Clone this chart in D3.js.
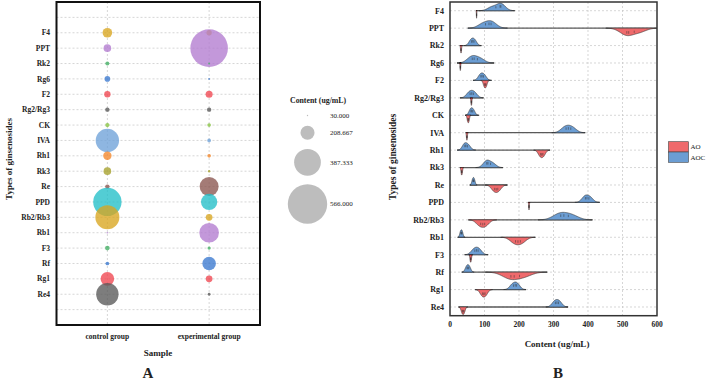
<!DOCTYPE html>
<meta charset="utf-8">
<title>ginsenosides - bubble and half violin</title>
<style>
body {
  margin: 0px;
  background: #fff;
}
svg text {
  font-family: "Liberation Serif", "DejaVu Serif", serif;
  font-weight: bold;
  fill: #222;
}
.grid line {
  stroke: #c4c4c4;
  stroke-width: 0.7;
  stroke-dasharray: 2,2;
}
</style>
<script src="https://d3js.org/d3.v7.min.js"></script>
<body>
<script>
var width = 708, height = 382;

// ---- data ----
var ginsenosides = ["F4", "PPT", "Rk2", "Rg6", "F2", "Rg2/Rg3", "CK", "IVA", "Rh1", "Rk3",
                    "Re", "PPD", "Rb2/Rb3", "Rb1", "F3", "Rf", "Rg1", "Re4"];
var samples = ["control group", "experimental group"];
// panel A: content (ug/mL) per sample
var controlContent = [146, 118, 67, 90, 100, 72, 70, 340, 129, 118, 72, 410, 349, 33, 75, 62, 202, 326];
var experimentalContent = [86, 540, 36, 36, 109, 72, 62, 62, 62, 44, 278, 240, 105, 287, 56, 202, 105, 50];
var sizeBreaks = [30, 208.667, 387.333, 566];
// panel B: replicate measurements (ug/mL)
var groups = ["AO", "AOC"];
var aocValues = [
  [121, 145, 150], [93, 113, 125], [59, 66, 73], [59, 70, 89], [86, 93, 101],
  [53.5, 63, 72.5], [58, 63, 69], [330, 343, 357], [40, 46, 55], [103, 110, 125],
  [65, 68, 71], [388, 397, 408], [312, 330, 356], [30, 33, 36], [67, 77, 86],
  [47, 52, 57], [179, 189, 197], [301, 310, 319]
];
var aoValues = [
  [76.6, 77, 77.4], [507, 518, 550], [31, 32, 33], [29.3, 30, 30.7], [98.4, 102, 105.6],
  [61, 62, 63], [50.8, 53, 55.2], [48, 49, 50], [259.4, 266, 272.6], [32.5, 34, 35.5],
  [125, 134, 143], [228.3, 229, 229.7], [83, 95, 106], [183, 197, 211], [58.5, 60, 61.5],
  [167, 186, 217], [91, 98, 105], [34.3, 38, 41.7]
];
var contentTicks = [0, 100, 200, 300, 400, 500, 600];

// colours cycle from the bottom row upwards
var palette = ["#585858", "#f0454f", "#3a78cf", "#43b064", "#b27bd0", "#d9a51f",
               "#22bfc8", "#8a5650", "#a5a02a", "#f4862a", "#6ea1d9", "#86c440"];
var groupColor = {AO: "#ef6a6c", AOC: "#6b9dd3"};

var svg = d3.select("body").append("svg")
    .attr("width", width)
    .attr("height", height);

// ================= panel A =================
var rowsA = [""].concat(ginsenosides, [" "]);
var yA = d3.scalePoint().domain(rowsA).range([2, 325]).padding(1);
var xA = d3.scalePoint().domain(samples).range([56.5, 260]).padding(0.5);
var rA = d3.scaleLinear().domain([30, 566]).range([0.7, 19.7]).clamp(true);
var colour = d3.scaleOrdinal().domain(ginsenosides.slice().reverse()).range(palette);

var gA = svg.append("g");
var gridA = gA.append("g").attr("class", "grid");
gridA.selectAll("line.h").data(rowsA).enter().append("line")
    .attr("x1", 56.5).attr("x2", 260)
    .attr("y1", function(d) { return yA(d); })
    .attr("y2", function(d) { return yA(d); });
gridA.selectAll("line.v").data(samples).enter().append("line")
    .attr("x1", function(d) { return xA(d); })
    .attr("x2", function(d) { return xA(d); })
    .attr("y1", 2).attr("y2", 325);

var bubbles = [];
ginsenosides.forEach(function(g, i) {
  bubbles.push({g: g, s: samples[0], v: controlContent[i]});
  bubbles.push({g: g, s: samples[1], v: experimentalContent[i]});
});
gA.selectAll("circle.b").data(bubbles).enter().append("circle")
    .attr("cx", function(d) { return xA(d.s); })
    .attr("cy", function(d) { return yA(d.g); })
    .attr("r", function(d) { return rA(d.v); })
    .attr("fill", function(d) { return colour(d.g); })
    .attr("fill-opacity", 0.78);

gA.append("rect")
    .attr("x", 56.5).attr("y", 2).attr("width", 203.5).attr("height", 323)
    .attr("fill", "none").attr("stroke", "#111").attr("stroke-width", 2);

gA.selectAll("text.yl").data(ginsenosides).enter().append("text")
    .attr("x", 50).attr("y", function(d) { return yA(d); })
    .attr("dy", "0.35em").attr("text-anchor", "end")
    .style("font-size", "7.5px").text(function(d) { return d; });
gA.selectAll("text.xl").data(samples).enter().append("text")
    .attr("x", function(d) { return xA(d); }).attr("y", 339)
    .attr("text-anchor", "middle")
    .style("font-size", "7.5px").text(function(d) { return d; });
gA.append("text").attr("x", 158).attr("y", 356).attr("text-anchor", "middle")
    .style("font-size", "9px").text("Sample");
gA.append("text").attr("transform", "translate(12,159) rotate(-90)").attr("text-anchor", "middle")
    .style("font-size", "9px").text("Types of ginsenosides");
gA.append("text").attr("x", 148).attr("y", 378).attr("text-anchor", "middle")
    .style("font-size", "15px").text("A");

// size legend
var legY = [115.5, 132.7, 162.3, 204];
var legA = svg.append("g");
legA.append("text").attr("x", 290).attr("y", 102.5)
    .style("font-size", "7.8px").text("Content (ug/mL)");
legA.selectAll("circle").data(sizeBreaks).enter().append("circle")
    .attr("cx", 307.5).attr("cy", function(d, i) { return legY[i]; })
    .attr("r", function(d) { return rA(d); })
    .attr("fill", "#bdbdbd");
legA.selectAll("text.v").data(sizeBreaks).enter().append("text")
    .attr("x", 330).attr("y", function(d, i) { return legY[i]; })
    .attr("dy", "0.35em").style("font-size", "7px").style("font-weight", "normal")
    .text(function(d) { return d3.format(".3f")(d); });

// ================= panel B =================
var bx0 = 450, bx1 = 657, bTop = 2, bBottom = 315.7;
var xB = d3.scaleLinear().domain([0, 600]).range([bx0, bx1]);
var yB = d3.scalePoint().domain(ginsenosides).range([bTop, bBottom]).padding(0.5);
var hB = d3.scaleLinear().domain([0, 1]).range([0, 7.5]);
var adjust = 1.6;

var gB = svg.append("g");
gB.append("clipPath").attr("id", "clipB").append("rect")
    .attr("x", bx0).attr("y", bTop).attr("width", bx1 - bx0).attr("height", bBottom - bTop);

var gridB = gB.append("g").attr("class", "grid");
gridB.selectAll("line.h").data(ginsenosides).enter().append("line")
    .attr("x1", bx0).attr("x2", bx1)
    .attr("y1", function(d) { return yB(d); })
    .attr("y2", function(d) { return yB(d); });
gridB.selectAll("line.v").data(contentTicks.slice(1, -1)).enter().append("line")
    .attr("x1", function(d) { return xB(d); })
    .attr("x2", function(d) { return xB(d); })
    .attr("y1", bTop).attr("y2", bBottom);

// silverman's rule (R's bw.nrd0) times an adjust factor
function bandwidth(v) {
  var s = v.slice().sort(d3.ascending);
  var sd = d3.deviation(s);
  var iqr = (d3.quantile(s, 0.75) - d3.quantile(s, 0.25)) / 1.34;
  var lo = Math.min(sd, iqr) || sd || 1;
  return adjust * 0.9 * lo * Math.pow(s.length, -0.2);
}
function kde(v) {
  var bw = bandwidth(v);
  var f = function(x) {
    return d3.mean(v, function(d) { return Math.exp(-0.5 * Math.pow((x - d) / bw, 2)); });
  };
  var lo = d3.min(v) - 3 * bw, hi = d3.max(v) + 3 * bw;
  var pts = d3.range(121).map(function(i) { var x = lo + (hi - lo) * i / 120; return [x, f(x)]; });
  var m = d3.max(pts, function(p) { return p[1]; });
  return {pts: pts.map(function(p) { return [p[0], p[1] / m]; }), f: function(x) { return f(x) / m; }, lo: lo, hi: hi};
}

var plotB = gB.append("g").attr("clip-path", "url(#clipB)");
ginsenosides.forEach(function(g, i) {
  var y = yB(g);
  var dAOC = kde(aocValues[i]), dAO = kde(aoValues[i]);
  var row = plotB.append("g");
  row.append("line")
      .attr("x1", xB(Math.min(dAOC.lo, dAO.lo))).attr("x2", xB(Math.max(dAOC.hi, dAO.hi)))
      .attr("y1", y).attr("y2", y)
      .attr("stroke", "#5a5a5a").attr("stroke-width", 1.3);
  [[dAOC, aocValues[i], "AOC", -1], [dAO, aoValues[i], "AO", 1]].forEach(function(s) {
    var dens = s[0], vals = s[1].slice().sort(d3.ascending), dir = s[3];
    var area = d3.area()
        .x(function(p) { return xB(p[0]); })
        .y0(y)
        .y1(function(p) { return y + dir * hB(p[1]); });
    row.append("path").datum(dens.pts)
        .attr("d", area)
        .attr("fill", groupColor[s[2]])
        .attr("stroke", "#333").attr("stroke-width", 0.6);
    [0.25, 0.5, 0.75].forEach(function(q) {
      var qx = d3.quantile(vals, q);
      row.append("line")
          .attr("x1", xB(qx)).attr("x2", xB(qx))
          .attr("y1", y + dir * hB(dens.f(qx)) * 0.4)
          .attr("y2", y + dir * hB(dens.f(qx)) * 0.75)
          .attr("stroke", "#333").attr("stroke-width", 0.5);
    });
  });
});

gB.append("rect")
    .attr("x", bx0).attr("y", bTop).attr("width", bx1 - bx0).attr("height", bBottom - bTop)
    .attr("fill", "none").attr("stroke", "#333").attr("stroke-width", 1.5);

gB.selectAll("text.yl").data(ginsenosides).enter().append("text")
    .attr("x", 444).attr("y", function(d) { return yB(d); })
    .attr("dy", "0.35em").attr("text-anchor", "end")
    .style("font-size", "8px").text(function(d) { return d; });
gB.selectAll("text.xl").data(contentTicks).enter().append("text")
    .attr("x", function(d) { return xB(d); }).attr("y", 327)
    .attr("text-anchor", "middle")
    .style("font-size", "7.5px").text(function(d) { return d; });
gB.append("text").attr("x", 557).attr("y", 347).attr("text-anchor", "middle")
    .style("font-size", "9px").text("Content (ug/mL)");
gB.append("text").attr("transform", "translate(396,157) rotate(-90)").attr("text-anchor", "middle")
    .style("font-size", "9.5px").text("Types of ginsenosides");
gB.append("text").attr("x", 558).attr("y", 378).attr("text-anchor", "middle")
    .style("font-size", "15px").text("B");

// group legend
var legB = svg.append("g");
legB.selectAll("rect").data(groups).enter().append("rect")
    .attr("x", 668.5).attr("y", function(d, i) { return 141.7 + i * 10.3; })
    .attr("width", 20).attr("height", 10.3)
    .attr("fill", function(d) { return groupColor[d]; })
    .attr("stroke", "#444").attr("stroke-width", 0.6);
legB.selectAll("text").data(groups).enter().append("text")
    .attr("x", 690.5).attr("y", function(d, i) { return 147 + i * 10.3; })
    .attr("dy", "0.35em").style("font-size", "7px").style("font-weight", "normal")
    .text(function(d) { return d; });
</script>
